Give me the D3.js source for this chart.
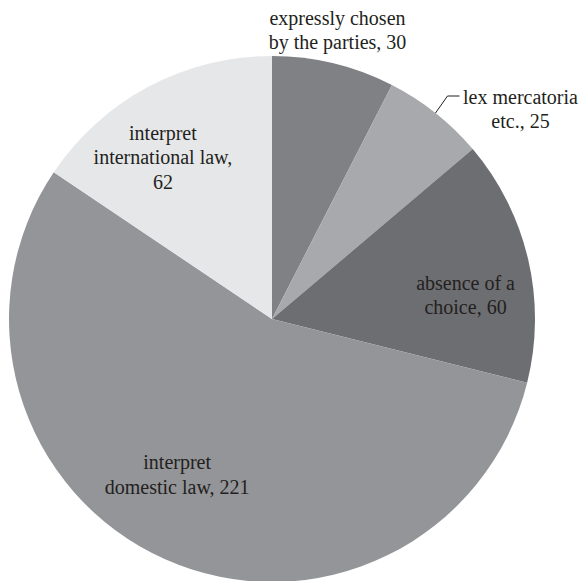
<!DOCTYPE html>
<html>
<head>
<meta charset="utf-8">
<script src="https://cdn.jsdelivr.net/npm/d3@7"></script>
<style>
  body { margin: 0; background: #fff; }
</style>
</head>
<body>
<div id="chart"></div>
<script>
// data, clockwise from 12 o'clock
var categories = ["expressly chosen by the parties", "lex mercatoria etc.", "absence of a choice", "interpret domestic law", "interpret international law"];
var values = [30, 25, 60, 221, 62];
var labelLines = [
  ["expressly chosen", "by the parties, 30"],
  ["lex mercatoria", "etc., 25"],
  ["absence of a", "choice, 60"],
  ["interpret", "domestic law, 221"],
  ["interpret", "international law,", "62"]
];
var colors = ["#808184", "#a7a9ac", "#6d6e71", "#939598", "#e6e7e8"];

var width = 586, height = 581;
var cx = 272, cy = 319, radius = 263;
var lineH = 24.5;

var svg = d3.select("#chart").append("svg")
  .attr("width", width)
  .attr("height", height);

var g = svg.append("g").attr("transform", "translate(" + cx + "," + cy + ")");

var pie = d3.pie().sort(null).value(function(d) { return d; });
var arcs = pie(values);

var arc = d3.arc().innerRadius(0).outerRadius(radius);

g.selectAll("path.slice")
  .data(arcs)
  .enter()
  .append("path")
  .attr("class", "slice")
  .attr("d", arc)
  .attr("fill", function(d, i) { return colors[i]; });

// label placement: fraction of radius for the centroid, then a small nudge
var labelFrac = [1.11, 1.0, 0.74, 0.71, 0.745];
var labelNudge = [[-3, -4], [0, 0], [4, 21], [-19, -14], [-17, 12]];

function polar(a, r) {
  return [Math.sin(a) * r, -Math.cos(a) * r];
}

arcs.forEach(function(d, i) {
  var mid = (d.startAngle + d.endAngle) / 2;
  var lines = labelLines[i];
  var x, y;
  if (i === 1) {
    // leader line for the thin slice
    var p0 = polar(mid, radius);
    var p1 = [p0[0] + 12, p0[1] - 17];
    var p2 = [p1[0] + 12, p1[1]];
    g.append("path")
      .attr("d", d3.line()([p0, p1, p2]))
      .attr("fill", "none")
      .attr("stroke", "#231f20")
      .attr("stroke-width", 1);
    x = p2[0] + 61;
    y = p2[1] + 14;
  } else {
    var c = polar(mid, radius * labelFrac[i]);
    x = c[0] + labelNudge[i][0];
    y = c[1] + labelNudge[i][1];
  }
  var t = g.append("text")
    .attr("text-anchor", "middle")
    .style("font-family", "Liberation Serif")
    .style("font-size", "20px")
    .style("fill", "#231f20")
    .attr("x", x)
    .attr("y", y);
  var first = (lines.length - 1) / 2;
  lines.forEach(function(s, k) {
    t.append("tspan")
      .attr("x", x)
      .attr("y", y + (k - first) * lineH + 6)
      .text(s);
  });
});
</script>
</body>
</html>
